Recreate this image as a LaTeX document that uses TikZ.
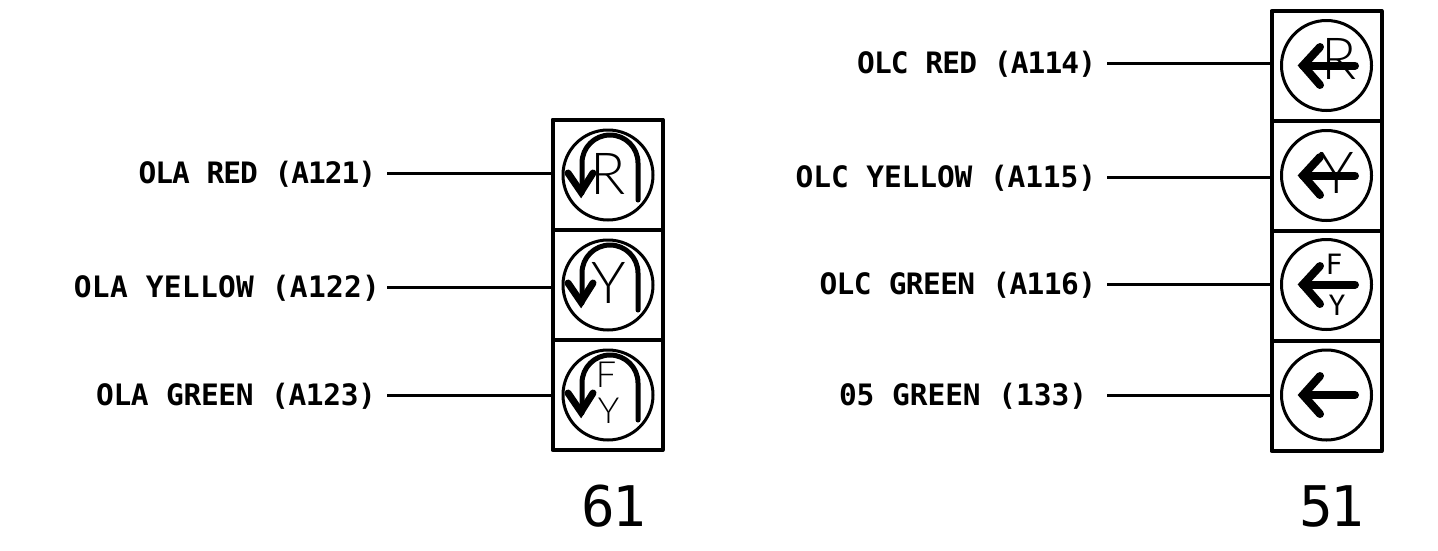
\documentclass[tikz,border=0pt]{standalone}
\usepackage{fontspec}
\newfontfamily\labfont{DejaVu Sans Mono Bold}
\newfontfamily\sigfont{Lato Light}
\newfontfamily\numfont{DejaVu Sans Mono}
\begin{document}
\begin{tikzpicture}[
    x=1pt,
    y=-1pt,
    cell/.style={draw, line width=4pt, line join=round, minimum size=110pt, inner sep=0pt, outer sep=0pt},
    lamp/.style={draw, circle, line width=3pt, minimum size=90pt, inner sep=0pt, outer sep=0pt},
    lab/.style={anchor=east, inner ysep=0pt, outer sep=0pt, text height=21pt, text depth=0pt,
        font=\labfont\fontsize{29.5}{29.5}\selectfont\addfontfeature{LetterSpace=#1}},
    big/.style={inner sep=0pt, font=\sigfont\fontsize{58}{58}\selectfont},
    small/.style={inner sep=0pt, font=\sigfont\fontsize{36}{36}\selectfont},
    tiny/.style={inner sep=0pt, font=\numfont\fontsize{28}{28}\selectfont},
    num/.style={inner sep=0pt, font=\numfont\fontsize{56}{56}\selectfont\addfontfeature{LetterSpace=-5}},
    e/.style={draw, line width=3pt},
    turn/.style={draw, line width=5pt, line cap=round, miter limit=10},
    arr/.style={draw, line width=8pt, line cap=round, miter limit=10},
]
    \useasboundingbox (0, 0) rectangle (1438, 550);

    % left head
    \node[cell] (ca0) at (607.5, 174.5) {};
    \node[cell] (ca1) at (607.5, 284.5) {};
    \node[cell] (ca2) at (607.5, 395) {};
    \node[lamp] (la0) at (608, 175) {};
    \node[lamp] (la1) at (608, 285) {};
    \node[lamp] (la2) at (608, 395) {};

    % right head
    \node[cell] (cc0) at (1326.5, 66) {};
    \node[cell] (cc1) at (1326.5, 176) {};
    \node[cell] (cc2) at (1326.5, 286) {};
    \node[cell] (cc3) at (1326.5, 396) {};
    \node[lamp] (lc0) at (1326.5, 65.5) {};
    \node[lamp] (lc1) at (1326.5, 175.5) {};
    \node[lamp] (lc2) at (1326.5, 284.5) {};
    \node[lamp] (lc3) at (1326.5, 395) {};

    \node[lab=-3.5, inner xsep=11pt] (na0) at (387, 173) {OLA RED (A121)};
    \node[lab=1, inner xsep=7pt] (na1) at (387, 287) {OLA YELLOW (A122)};
    \node[lab=-1.1, inner xsep=11pt] (na2) at (387, 395) {OLA GREEN (A123)};
    \node[lab=-3, inner xsep=11pt] (nc0) at (1107, 63) {OLC RED (A114)};
    \node[lab=-0.4, inner xsep=11pt] (nc1) at (1107, 177) {OLC YELLOW (A115)};
    \node[lab=-2, inner xsep=11pt] (nc2) at (1107, 284) {OLC GREEN (A116)};
    \node[lab=-0.2, inner xsep=20pt] (nc3) at (1107, 395) {05 GREEN (133)};

    \path[e] (na0.east) -- (na0.east -| ca0.west);
    \path[e] (na1.east) -- (na1.east -| ca1.west);
    \path[e] (na2.east) -- (na2.east -| ca2.west);
    \path[e] (nc0.east) -- (nc0.east -| cc0.west);
    \path[e] (nc1.east) -- (nc1.east -| cc1.west);
    \path[e] (nc2.east) -- (nc2.east -| cc2.west);
    \path[e] (nc3.east) -- (nc3.east -| cc3.west);

    \node[big] (ra) at (608, 174) {R};
    \node[big] (ya) at (608.5, 283) {Y};
    \node[small] (fa) at (606, 375) {F};
    \node[small] (ga) at (608.5, 410.5) {Y};
    \node[big] (rc) at (1339, 59) {R};
    \node[big] (yc) at (1337, 172.5) {Y};
    \node[tiny] (fc) at (1334, 264.5) {F};
    \node[tiny] (gc) at (1337, 305) {Y};

    \path[turn] (582, 193) -- (582, 163) arc[start angle=180, end angle=360, radius=28] -- (638, 200);
    \path[turn] (582, 303) -- (582, 273) arc[start angle=180, end angle=360, radius=28] -- (638, 310);
    \path[turn] (582, 413) -- (582, 383) arc[start angle=180, end angle=360, radius=28] -- (638, 420);
    \path[arr, line width=7pt] (568, 173) -- (581, 192) -- (593, 173);
    \path[arr, line width=7pt] (568, 283) -- (581, 302) -- (593, 283);
    \path[arr, line width=7pt] (568, 393) -- (581, 412) -- (593, 393);

    \path[arr] (1320, 47) -- (1303, 65.5) -- (1320, 85);
    \path[arr] (1320, 157) -- (1303, 175.5) -- (1320, 195);
    \path[arr] (1320, 266) -- (1303, 284.5) -- (1320, 304);
    \path[arr] (1320, 376) -- (1303, 395) -- (1320, 414);
    \path[arr] (1303, 65.5) -- (1355, 65.5);
    \path[arr] (1303, 175.5) -- (1355, 175.5);
    \path[arr] (1303, 284.5) -- (1355, 284.5);
    \path[arr] (1303, 395) -- (1355, 395);

    \node[num] (na) at (613.5, 506.5) {61};
    \node[num] (nc) at (1331.5, 506.5) {51};
\end{tikzpicture}
\end{document}
